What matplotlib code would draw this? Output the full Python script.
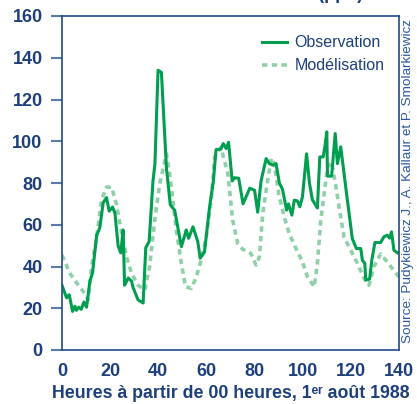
import matplotlib
matplotlib.use("Agg")
import matplotlib.pyplot as plt
from matplotlib.lines import Line2D

obs_hours = [0, 1.9, 3, 4.4, 5.4, 6, 7, 8, 9.1, 10.2, 11.6, 12.7, 14.4, 15.7, 17.1, 18.5,
             19.6, 21, 22, 23.3, 24.4, 25.4, 26, 27.5, 28.9, 29.5, 31.6, 33.7, 34.8, 36.2,
             37.8, 38.6, 39.9, 41.3, 43.4, 45, 46.8, 49.6, 51.6, 52.6, 54.4, 56.4, 57.4,
             59.2, 61.3, 62.9, 64, 66, 67, 68.2, 69.2, 70.7, 71.6, 73.4, 75.2, 78, 80,
             81.3, 82.7, 84.8, 86.1, 87.8, 88.9, 90.3, 91.6, 93.3, 94.1, 95.5, 96.5, 97.8,
             98.8, 99.9, 101.6, 102.8, 104, 106.1, 107.1, 108.5, 109.2, 110, 110.3, 112,
             113.5, 114.4, 115.8, 118.2, 120.6, 122.3, 124.1, 124.8, 125.8, 126.2, 127.8,
             128.7, 130, 132.4, 133.7, 135.1, 136.1, 136.9, 137.9, 139.3]
obs_values = [31, 25, 26.5, 18.5, 21, 19, 20.5, 19.5, 23, 20.5, 33, 37, 55, 58.5, 70.5, 73,
              66.5, 68.5, 65.5, 50, 46.5, 57.5, 31, 34.5, 33, 30, 24, 22.5, 49, 52,
              81, 89, 134, 133, 87, 69.5, 67, 49.5, 57.5, 53.5, 59, 52, 44,
              47, 68.5, 81, 96, 96.2, 98.9, 96.5, 99.5, 81, 82.5, 82.3, 70, 77.5, 76.5,
              66, 81, 91.7, 89.3, 88.5, 89.3, 80, 77, 67, 70, 64.6, 71.8, 71.4,
              68.6, 73.4, 94, 80, 72, 68, 92.5, 92.5, 97.3, 104.5, 83.3, 83.3,
              103.7, 89.3, 97.3, 75, 53.4, 48.6, 48.6, 43, 41.5, 33.5, 34,
              43, 51.5, 51.5, 54.2, 55, 53.6, 56.6, 47.8, 46.6]

mod_hours = [0, 3.3, 6.8, 9.5, 10.9, 12.3, 14.4, 16.4, 18.5, 20.6, 22.6, 24.7, 26.8, 28.9,
             31.6, 34.4, 36.4, 38.5, 40.6, 43.4, 45, 47.5, 49.6, 51.3, 53.7, 55.8, 57.8,
             59.9, 62, 63.4, 66, 68.9, 70.9, 73, 75, 78.5, 80.6, 82, 83.4, 85.4, 87,
             88.2, 90, 92.3, 94.4, 97.2, 99.9, 102, 104.8, 106.1, 107.5, 109.6, 110.3,
             112, 113.7, 115.1, 117.2, 120, 122.7, 125.5, 127.5, 129.6, 132.4, 135.1,
             138.6, 140]
mod_values = [45.5, 36.7, 31, 27, 24, 40, 54, 71.8, 78, 78, 70, 56.6, 44.6, 36.7,
              31, 28.7, 40, 62, 79.7, 94, 82, 57.4, 41.5, 30.3, 29.5, 35, 43,
              54, 71.8, 92.5, 97, 84.5, 62.2, 51, 48.3, 46.2, 40.7, 44.6, 65.4, 81, 92,
              89.3, 75, 63.8, 55.8, 48.6, 42.2, 35, 30.3, 41.5, 62.2, 81, 87.7,
              90, 79, 68.6, 54, 47.8, 41.5, 34.3, 31, 40, 46, 42.2,
              37, 35]

x_ticks = [0, 20, 40, 60, 80, 100, 120, 140]
y_ticks = [0, 20, 40, 60, 80, 100, 120, 140, 160]

NAVY = "#1d3f7c"
SPINE = "#1f4a8a"
GREEN = "#009e4f"
LIGHT = "#8fd0a9"
DASH = (1.5, 1.2)

plt.rcParams['font.family'] = ['Liberation Sans', 'DejaVu Sans']

fig = plt.figure(figsize=(4.17, 4.04), dpi=100)
ax = fig.add_axes([62/417, 1-350/404, (399-62)/417, (350-16)/404])

ax.plot(mod_hours, mod_values, color=LIGHT, lw=2.6, dashes=DASH)
ax.plot(obs_hours, obs_values, color=GREEN, lw=2.2)

ax.set_xlim(0, 140)
ax.set_ylim(0, 160)
ax.set_xticks(x_ticks)
ax.set_yticks(y_ticks)
ax.tick_params(axis='y', direction='out', length=8, width=1.5, color="#5a7aa8",
               labelsize=13, labelcolor=NAVY, pad=6)
ax.tick_params(axis='x', length=0, labelsize=13, labelcolor=NAVY, pad=9)
for lab in ax.get_xticklabels() + ax.get_yticklabels():
    lab.set_fontweight('bold')
for s in ax.spines.values():
    s.set_color(SPINE)
    s.set_linewidth(1.2)

ax.set_xlabel("Heures à partir de 00 heures, 1ᵉʳ août 1988", fontsize=12.8,
              fontweight='bold', color=NAVY, labelpad=4)

handles = [Line2D([], [], color=GREEN, lw=2.2),
           Line2D([], [], color=LIGHT, lw=2.6, dashes=DASH)]
ax.legend(handles, ["Observation", "Modélisation"], loc='upper right',
          bbox_to_anchor=(1.0, 0.985), frameon=False, fontsize=11.5, labelcolor=NAVY,
          handlelength=1.6, handletextpad=0.45, labelspacing=0.5)

fig.text(408/417, 1 - 181/404, "Source: Pudykiewicz J., A. Kallaur et P. Smolarkiewicz",
         rotation=90, ha='center', va='center', fontsize=9.7, color="#2a58a0")

fig.text(62/417, 1 + 1.5/404, "Concentration d'ozone au sol (ppb)", ha='left', va='baseline',
         fontsize=13, fontweight='bold', color=NAVY)

fig.savefig("out.png", dpi=100)
